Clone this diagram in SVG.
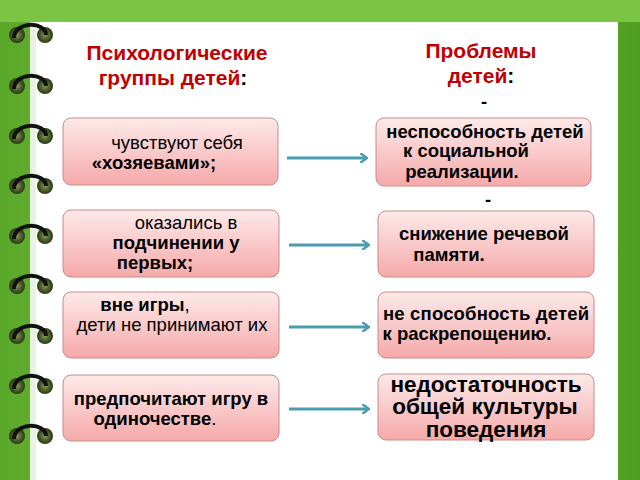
<svg xmlns="http://www.w3.org/2000/svg" width="640" height="480" viewBox="0 0 640 480">
<defs>
<linearGradient id="bg" x1="0" y1="0" x2="1" y2="0"><stop offset="0" stop-color="#5aa82a"/><stop offset="0.5" stop-color="#8fd14f"/><stop offset="1" stop-color="#4e9e22"/></linearGradient>
<linearGradient id="box" x1="0" y1="0" x2="0" y2="1"><stop offset="0" stop-color="#fdeaea"/><stop offset="1" stop-color="#f6a9a9"/></linearGradient>
<radialGradient id="hole"><stop offset="0" stop-color="#8a9a5a"/><stop offset="0.6" stop-color="#4a5a2a"/><stop offset="1" stop-color="#2a3a14"/></radialGradient>
<marker id="ar" markerWidth="8" markerHeight="10" refX="6" refY="5" orient="auto" markerUnits="userSpaceOnUse"><path d="M0,0 L7,5 L0,10" fill="none" stroke="#4a9cb0" stroke-width="2.5"/></marker>
<g id="ring"><circle cx="17" cy="0" r="8" fill="url(#hole)"/><circle cx="45" cy="0" r="8" fill="url(#hole)"/><path d="M14,3 C14,-14 46,-14 46,0" fill="none" stroke="#111" stroke-width="4"/></g>
</defs>
<style>
.b{fill:url(#box);stroke:#c98a8a;stroke-width:1}
.t{font-family:"Liberation Sans",Arial,sans-serif;font-size:18.5px;fill:#000;text-anchor:middle}
.bd{font-weight:bold}
.big{font-size:22.5px}
.h{font-family:"Liberation Sans",Arial,sans-serif;font-size:21px;font-weight:bold;fill:#c00000;text-anchor:middle}
.c{stroke:#4a9cb0;stroke-width:3;fill:none}
</style>
<rect width="640" height="480" fill="url(#bg)"/>
<rect x="0" y="0" width="640" height="22" fill="#7cc443"/>
<rect x="30" y="22" width="588" height="458" fill="#fff"/>
<rect x="30" y="22" width="6" height="458" fill="#e8f2e0"/>
<g id="rings">
<use href="#ring" y="35"/><use href="#ring" y="86"/><use href="#ring" y="136"/><use href="#ring" y="186"/><use href="#ring" y="236"/><use href="#ring" y="286"/><use href="#ring" y="336"/><use href="#ring" y="386"/><use href="#ring" y="436"/>
</g>
<g id="head1"><text class="h" x="177" y="60">Психологические</text><text class="h" x="173" y="85">группы детей<tspan fill="#000">:</tspan></text></g>
<g id="head2"><text class="h" x="481" y="58">Проблемы</text><text class="h" x="481" y="83">детей<tspan fill="#000">:</tspan></text><text class="t bd" x="484" y="108">-</text><text class="t bd" x="488" y="206">-</text></g>
<g id="l1"><rect class="b" x="63" y="118" width="215" height="67" rx="8"/><text class="t" x="177" y="149">чувствуют себя</text><text class="t bd" x="154" y="169">«хозяевами»;</text></g>
<g id="l2"><rect class="b" x="63" y="210" width="216" height="67" rx="8"/><text class="t" x="186" y="229">оказались в</text><text class="t bd" x="176" y="249">подчинении у</text><text class="t bd" x="155" y="269">первых;</text></g>
<g id="l3"><rect class="b" x="63" y="292" width="216" height="66" rx="8"/><text class="t" x="145" y="311"><tspan class="bd">вне игры</tspan>,</text><text class="t" x="172" y="331">дети не принимают их</text></g>
<g id="l4"><rect class="b" x="63" y="375" width="216" height="66" rx="8"/><text class="t bd" x="171" y="405">предпочитают игру в</text><text class="t" x="155" y="425"><tspan class="bd">одиночестве</tspan>.</text></g>
<g id="r1"><rect class="b" x="376" y="118" width="215" height="68" rx="8"/><text class="t bd" x="485" y="138">неспособность детей</text><text class="t bd" x="466" y="157">к социальной</text><text class="t bd" x="462" y="178">реализации.</text></g>
<g id="r2"><rect class="b" x="378" y="211" width="216" height="66" rx="8"/><text class="t bd" x="484" y="240">снижение речевой</text><text class="t bd" x="449" y="261">памяти.</text></g>
<g id="r3"><rect class="b" x="378" y="292" width="216" height="66" rx="8"/><text class="t bd" x="486" y="320" textLength="206">не способность детей</text><text class="t bd" x="467" y="340">к раскрепощению.</text></g>
<g id="r4"><rect class="b" x="378" y="374" width="216" height="66" rx="8"/><text class="t bd big" x="486" y="392">недостаточность</text><text class="t bd big" x="485" y="414">общей культуры</text><text class="t bd big" x="486" y="437">поведения</text></g>
<g id="connectors">
<line class="c" x1="287" y1="158" x2="366" y2="158" marker-end="url(#ar)"/>
<line class="c" x1="289" y1="245" x2="368" y2="245" marker-end="url(#ar)"/>
<line class="c" x1="289" y1="327" x2="368" y2="327" marker-end="url(#ar)"/>
<line class="c" x1="289" y1="409" x2="368" y2="409" marker-end="url(#ar)"/>
</g>
</svg>
